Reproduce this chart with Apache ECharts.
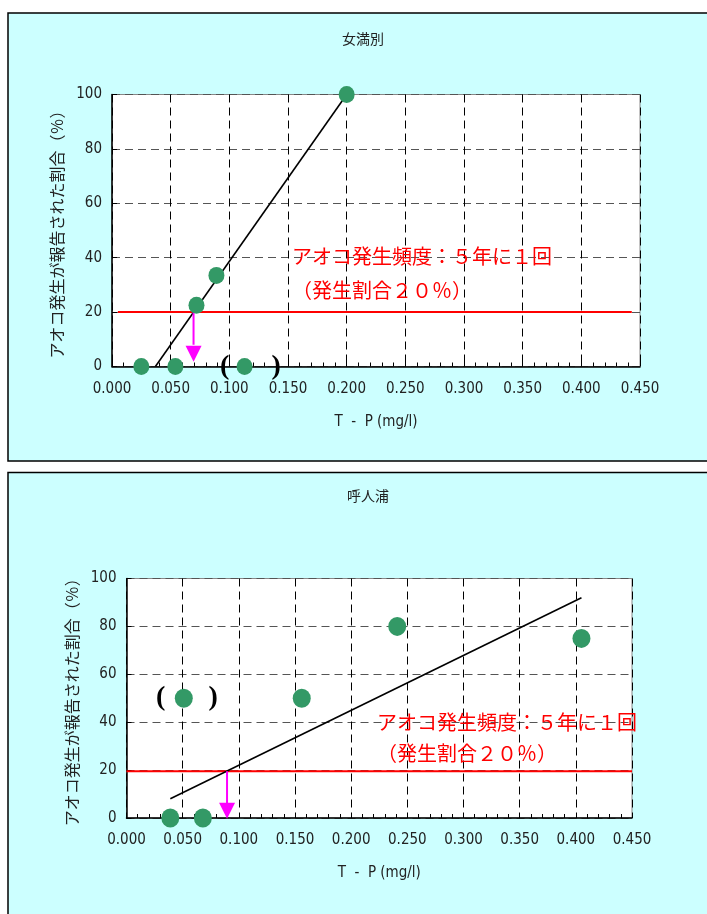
<!DOCTYPE html>
<html>
<head>
<meta charset="utf-8">
<script src="https://cdn.jsdelivr.net/npm/echarts@6/dist/echarts.min.js"></script>
<style>
html,body{margin:0;padding:0;background:#ffffff;}
#c{width:707px;height:914px;}
</style>
</head>
<body>
<div id="c"></div>
<script>
// ---- data ----
const titles = ['女満別', '呼人浦'];
const xAxisName = 'T  -  P (mg/l)';
const yAxisName = 'アオコ発生が報告された割合（％）';
const noteLine1 = 'アオコ発生頻度：５年に１回';
const noteLine2 = '（発生割合２０％）';

// 女満別
const memPoints = [[0.025, 0], [0.054, 0], [0.072, 22.5], [0.089, 33.5], [0.200, 100]];
const memParenPoint = [[0.113, 0]];
const memParens = [[0.096, 0, '('], [0.140, 0, ')']];
const memTrend = [[0.037, 0], [0.200, 100]];
const memThreshold = [[0.005, 20], [0.443, 20]];
const memArrowShaft = [[0.0695, 20], [0.0695, 8]];
const memArrowHead = [[0.0695, 4.7]];

// 呼人浦
const yobPoints = [[0.039, 0], [0.068, 0], [0.156, 50], [0.241, 80], [0.405, 75]];
const yobParenPoint = [[0.051, 50]];
const yobParens = [[0.0304, 50, '('], [0.0772, 50, ')']];
const yobTrend = [[0.039, 8], [0.405, 92]];
const yobThreshold = [[0.000, 19.5], [0.450, 19.5]];
const yobArrowShaft = [[0.0895, 19.5], [0.0895, 6]];
const yobArrowHead = [[0.0895, 3]];

const xMin = 0, xMax = 0.45, xInterval = 0.05;
const yMin = 0, yMax = 100, yInterval = 20;

// ---- styles ----
const narrow = "'Liberation Sans Narrow','DejaVu Sans Condensed','Liberation Sans',sans-serif";
const jp = "'Noto Sans CJK JP','Noto Sans',sans-serif";
const green = '#339966';

const grids = [
  {left: 112, top: 94.5, width: 528, height: 272},
  {left: 126.5, top: 578.5, width: 505.5, height: 239.5}
];

function xAxis(i) {
  return {
    type: 'value', gridIndex: i, min: xMin, max: xMax, interval: xInterval,
    name: xAxisName, nameLocation: 'middle', nameGap: 48,
    nameTextStyle: {fontFamily: narrow, fontSize: 15, color: '#222'},
    axisLine: {show: true, onZero: false, lineStyle: {color: '#000', width: 1.5}},
    axisTick: {show: true, inside: true, length: 5, lineStyle: {color: '#000'}},
    minorTick: {show: true, splitNumber: 5, length: 4, lineStyle: {color: '#000'}},
    axisLabel: {fontFamily: narrow, fontSize: 15, color: '#222', margin: 15,
      formatter: v => v.toFixed(3)},
    splitLine: {show: true, lineStyle: {color: '#000', type: [8, 5], width: 1}}
  };
}
function yAxis(i) {
  return {
    type: 'value', gridIndex: i, min: yMin, max: yMax, interval: yInterval,
    name: yAxisName, nameLocation: 'middle', nameGap: 39, nameRotate: 90,
    nameTextStyle: {fontFamily: jp, fontSize: 16, color: '#222'},
    axisLine: {show: true, lineStyle: {color: '#000', width: 1.5}},
    axisTick: {show: true, inside: true, length: 5, lineStyle: {color: '#000'}},
    axisLabel: {fontFamily: narrow, fontSize: 15, color: '#222', margin: 10},
    splitLine: {show: true, lineStyle: {color: '#555', type: [8, 5], width: 1}}
  };
}

function panelSeries(i, pts, parenPt, parens, trend, thr, shaft, head, ptSize) {
  return [
    {type: 'line', xAxisIndex: i, yAxisIndex: i, data: thr, symbol: 'none',
      lineStyle: {color: '#ff0000', width: 2}, z: 3, silent: true},
    {type: 'line', xAxisIndex: i, yAxisIndex: i, data: trend, symbol: 'none',
      lineStyle: {color: '#000', width: 1.6}, z: 4, silent: true},
    {type: 'line', xAxisIndex: i, yAxisIndex: i, data: shaft, symbol: 'none',
      lineStyle: {color: '#ff00ff', width: 2}, z: 5, silent: true},
    {type: 'scatter', xAxisIndex: i, yAxisIndex: i, data: head, symbol: 'triangle',
      symbolRotate: 180, symbolSize: [16, 16], itemStyle: {color: '#ff00ff', opacity: 1}, z: 5, clip: false},
    {type: 'scatter', xAxisIndex: i, yAxisIndex: i, data: pts, symbolSize: ptSize,
      itemStyle: {color: green, opacity: 1}, z: 6, clip: false},
    {type: 'scatter', xAxisIndex: i, yAxisIndex: i, data: parenPt, symbolSize: ptSize,
      itemStyle: {color: green, opacity: 1}, z: 6, clip: false},
    {type: 'scatter', xAxisIndex: i, yAxisIndex: i, data: parens, symbolSize: 0, clip: false,
      itemStyle: {opacity: 1},
      label: {show: true, position: 'inside', formatter: p => p.value[2],
        fontFamily: "'Liberation Serif','DejaVu Serif',serif", fontSize: 28, fontWeight: 'bold', color: '#000'},
      z: 6}
  ];
}

function note(x, y1, y2) {
  return [
    {type: 'text', left: x, top: y1, z: 100,
      style: {text: noteLine1, fill: '#ff0000', font: "20px " + jp}},
    {type: 'text', left: x, top: y2, z: 100,
      style: {text: noteLine2, fill: '#ff0000', font: "20px " + jp}}
  ];
}

const chart = echarts.init(document.getElementById('c'), null, {renderer: 'canvas'});
chart.setOption({
  backgroundColor: '#ffffff',
  animation: false,
  title: [
    {text: titles[0], left: 358, top: 27, textAlign: 'center',
      textStyle: {fontFamily: jp, fontSize: 14, fontWeight: 'normal', color: '#222'}},
    {text: titles[1], left: 363, top: 484, textAlign: 'center',
      textStyle: {fontFamily: jp, fontSize: 14, fontWeight: 'normal', color: '#222'}}
  ],
  graphic: [
    {type: 'rect', shape: {x: 8, y: 13, width: 710, height: 448}, z: -10,
      style: {fill: '#ccffff', stroke: '#000', lineWidth: 1.5}},
    {type: 'rect', shape: {x: 8, y: 472.5, width: 710, height: 460}, z: -10,
      style: {fill: '#ccffff', stroke: '#000', lineWidth: 1.5}},
    ...note(292, 246, 280),
    ...note(377, 712, 743)
  ],
  grid: grids.map(g => Object.assign({show: true, backgroundColor: '#fff', borderColor: '#888', borderWidth: 1}, g)),
  xAxis: [xAxis(0), xAxis(1)],
  yAxis: [yAxis(0), yAxis(1)],
  series: [
    ...panelSeries(0, memPoints, memParenPoint, memParens, memTrend, memThreshold, memArrowShaft, memArrowHead, [16, 17]),
    ...panelSeries(1, yobPoints, yobParenPoint, yobParens, yobTrend, yobThreshold, yobArrowShaft, yobArrowHead, [18, 19])
  ]
});
</script>
</body>
</html>
